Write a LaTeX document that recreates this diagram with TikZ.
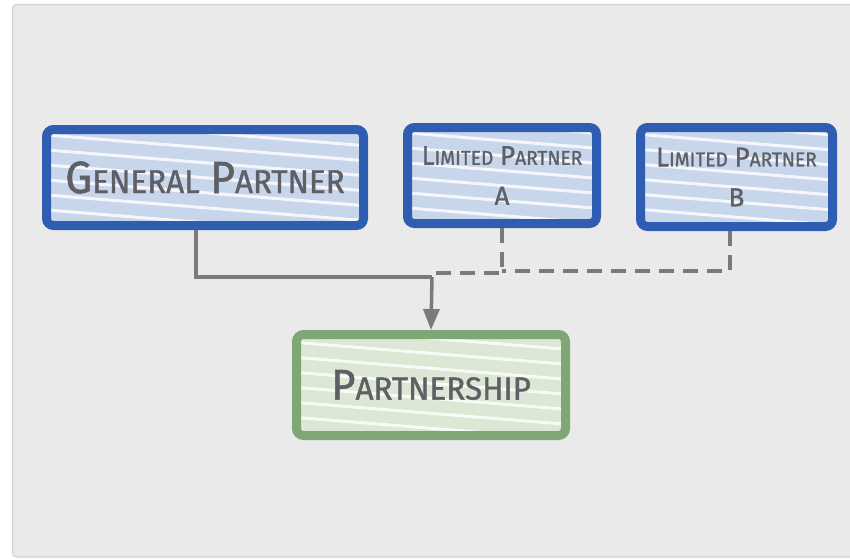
\documentclass[tikz,border=0pt]{standalone}
\usepackage{fontspec}
\setmainfont{Fira Sans}
\newfontfamily\handfont{Fira Sans}[FakeBold=1.2]
\usetikzlibrary{arrows.meta,calc}

\definecolor{panelfill}{HTML}{EAEAEA}
\definecolor{panelline}{HTML}{D2D2D2}
\definecolor{blueline}{HTML}{2E5DB2}
\definecolor{bluefill}{HTML}{C8D6EC}
\definecolor{greenline}{HTML}{7FA775}
\definecolor{greenfill}{HTML}{DCE7D5}
\definecolor{inkgray}{HTML}{5E6065}
\definecolor{wiregray}{HTML}{7A7A7A}

% hand-made small caps: a large initial followed by smaller capitals
\newcommand\capsword[4]{{\fontsize{#1}{#1}\selectfont #3}{\fontsize{#2}{#2}\selectfont #4}}

\tikzset{
  hatch/.style={path picture={
    \foreach \k in {-9,...,9}{
      \draw[white, line width=3pt, opacity=0.8]
        ([yshift=\k*15pt]path picture bounding box.west) ++(-30,-15) -- ++(420,34);
    }}},
  entity/.style={draw=blueline, fill=bluefill, line width=9pt, rounded corners=7pt,
    hatch, text=inkgray, align=center, inner sep=0pt, font=\handfont},
  firm/.style={draw=greenline, fill=greenfill, line width=9pt, rounded corners=7pt,
    hatch, text=inkgray, align=center, inner sep=0pt, font=\handfont},
  wire/.style={draw=wiregray, line width=3.5pt},
  dashwire/.style={wire, dash pattern=on 15pt off 9pt},
}

\begin{document}
\begin{tikzpicture}[x=1pt, y=-1pt]
  \useasboundingbox (0,0) rectangle (850,559);
  \clip (0,0) rectangle (850,559);

  % backdrop panel
  \draw[fill=panelfill, draw=panelline, line width=1.2pt, rounded corners=4pt]
    (12.5,4.5) rectangle (870,557);

  % partners and the partnership
  \node[entity, minimum width=317pt, minimum height=96pt] (gp) at (205,177.5)
    {\scalebox{0.95}[1]{\capsword{45}{33}{G}{ENERAL}\hspace{11pt}\capsword{45}{33}{P}{ARTNER}}};
  \node[entity, minimum width=189pt, minimum height=96pt] (lpa) at (502,175.5)
    {\scalebox{0.96}[1]{\capsword{27}{20}{L}{IMITED}\hspace{7pt}\capsword{27}{20}{P}{ARTNER}}\\[21pt]
     {\fontsize{26}{26}\selectfont A}};
  \node[entity, minimum width=192pt, minimum height=99pt] (lpb) at (736.5,177)
    {\scalebox{0.96}[1]{\capsword{27}{20}{L}{IMITED}\hspace{7pt}\capsword{27}{20}{P}{ARTNER}}\\[21pt]
     {\fontsize{26}{26}\selectfont B}};
  \node[firm, minimum width=269pt, minimum height=101pt] (ps) at (431,385)
    {\scalebox{0.98}[1]{\capsword{43}{32}{P}{ARTNERSHIP}}};

  % junction where the three contributions meet
  \coordinate (j) at (432,277);
  \coordinate (ja) at (502,273);
  \coordinate (jb) at (730,271);

  % general partner: solid line into the partnership
  \draw[wire] ($(gp.south)+(-9,0)$) |- (j);
  \draw[wire, -{Triangle[length=21pt, width=16pt]}] (j) -- (ps.north);

  % limited partners: dashed lines into the junction
  \draw[dashwire] (lpa.south) -- (ja) -- (ja -| j);
  \draw[dashwire] (lpb.south -| jb) -- (jb) -- (jb -| ja);
\end{tikzpicture}
\end{document}
